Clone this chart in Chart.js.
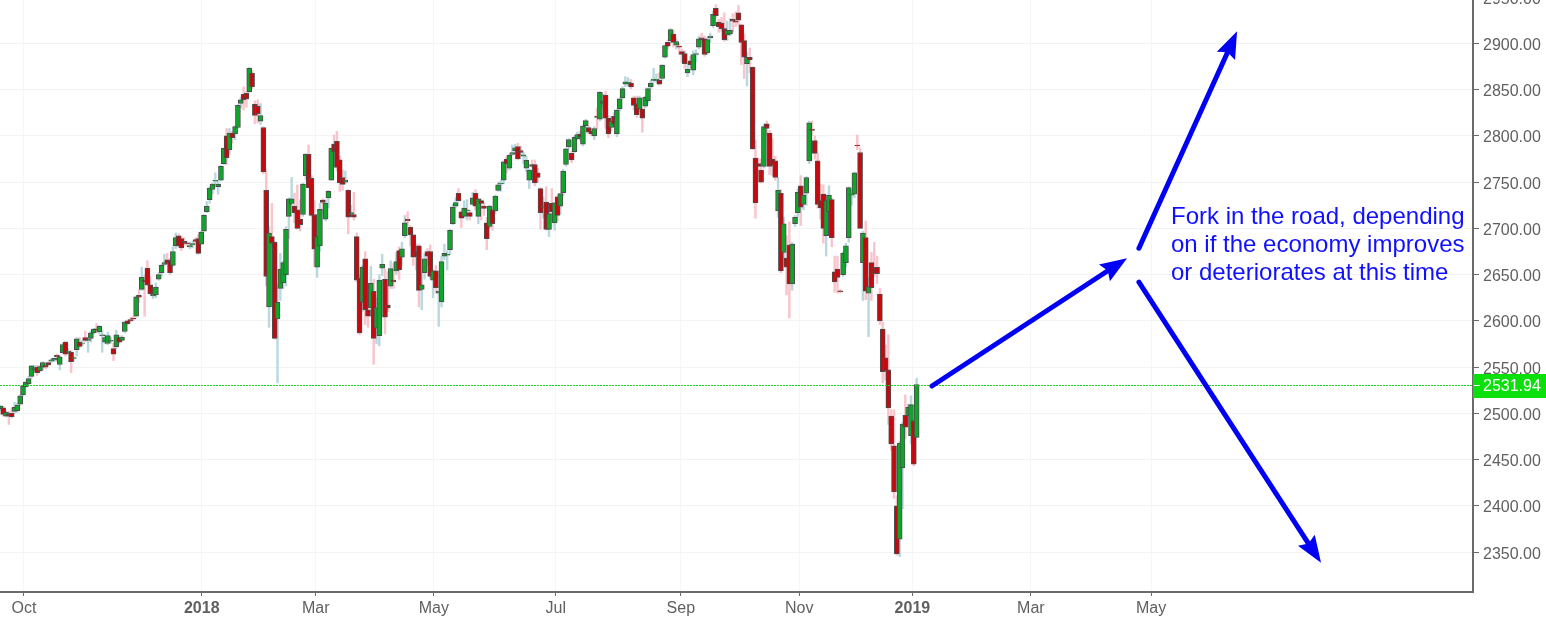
<!DOCTYPE html>
<html>
<head>
<meta charset="utf-8">
<title>S&amp;P 500 fork in the road</title>
<script src="https://cdn.jsdelivr.net/npm/chart.js@4"></script>
<style>
  html, body { margin: 0; padding: 0; background: #fff; overflow: hidden; }
  body { width: 1546px; height: 619px; position: relative; }
  #chart { position: absolute; left: 0; top: -20px; }
  #note {
    position: absolute; left: 1171px; top: 202px; width: 340px;
    font: 24px/28px "Liberation Sans", Arial, sans-serif; color: #1010ff;
  }
</style>
</head>
<body>
<canvas id="chart" width="1546" height="639"></canvas>
<div id="note">Fork in the road, depending<br>on if the economy improves<br>or deteriorates at this time</div>
<script>
// one entry per trading day
const opens = [
  2505,2506,2497,2499,2500,2502,2503,2510,2520,2529,
  2532,2540,2547,2550,2546,2550,2552,2555,2556.5,2557.5,
  2563,2553,2565.5,2577,2566,2566,2559.5,2569,2577,2575,
  2582,2579,2581,2587,2591.5,2588,2584,2577,2575.5,2578,
  2570,2572,2582,2579,2588.5,2600,2601.5,2603,2605,2627.5,
  2634,2644,2657,2639,2627,2628,2645,2652,2661,2666,
  2664.5,2660,2681,2692,2689,2686,2684.5,2680,2682,2688,
  2689,2683,2697,2718,2731,2742,2751,2745,2752,2770,
  2800,2785,2803,2802,2809,2835,2845,2846,2847.5,2868,
  2834,2832,2816,2809,2741,2615,2691,2685,2602,2635,
  2641,2650,2713,2727,2724,2720,2710,2715,2757,2780,
  2754,2715,2658,2681,2730.5,2710,2733,2752,2791,2794,
  2774,2755,2750,2741,2715,2715,2691,2646,2620,2667,
  2612,2614,2632,2592,2584,2657,2645,2617,2637.5,2644,
  2654,2676,2669,2692,2710,2701,2693,2675,2681,2634,
  2652,2675,2675,2644,2654,2630,2620.5,2670,2671,2677,
  2705,2724,2738,2718,2713,2719,2717,2726,2738,2713,
  2730,2724,2706,2702,2720,2719,2741,2748,2752,2775,
  2765,2780,2784,2788.5,2784,2778,2765,2752,2769,2769,
  2760,2743,2723,2728.5,2699,2727,2706,2734,2724,2738.5,
  2769,2788,2781,2783,2797,2802,2791,2811,2809,2805,
  2800,2821,2818,2835,2844,2819,2809,2821,2802,2829,
  2841,2856,2857,2857,2841,2835,2829,2829,2832,2838,
  2853,2860,2860,2860,2862,2885,2901,2903,2910,2898,
  2897,2891,2889,2868,2881,2871,2888,2896,2906,2905,
  2890,2906,2919,2938,2923,2922,2916,2909,2910,2926,
  2924,2933,2920,2903,2878,2885,2874,2776,2770,2763,
  2767,2813,2803,2775,2773,2719,2738,2674,2668,2682,
  2640,2705,2717,2746,2726,2738,2773,2807,2795,2773,
  2730,2737,2692,2718,2731,2653,2656,2632.5,2650,2663,
  2690,2736,2737,2790,2782,2663,2690,2630,2663,2658,
  2658,2629,2591,2560,2547,2497,2465,2400,2364,2441,
  2498,2497.5,2476,2492,2474
];
const closes = [
  2508,2499,2501,2497,2496.5,2506.5,2509,2519,2529.5,2533.5,
  2537.5,2551.5,2549.3,2544,2550.6,2555,2550,2552.5,2558,2559.5,
  2561,2561,2574.5,2564,2567,2556,2560.4,2580.6,2572.5,2575.5,
  2579,2580,2587,2591,2590,2594,2585,2582,2584,2579,
  2564,2585,2577,2582.5,2598.6,2597,2600,2602,2626,2625.5,
  2647,2642,2639,2629.5,2629,2636.5,2650,2660,2663,2662,
  2652,2675,2690,2681,2679,2684,2683.3,2681.5,2683.5,2686,
  2673,2696,2714,2724,2743.5,2748,2751.8,2748,2767,2786.5,
  2776.5,2803,2798,2810,2833,2839,2839,2840,2873,2853,
  2822,2824,2822,2761,2648,2695,2684,2581,2620,2656,
  2663,2699,2732,2732,2717,2700,2704,2748,2780,2744,
  2714,2677.5,2691,2720.5,2728,2727,2740,2786.5,2783,2766,
  2749,2747.5,2752,2712,2717,2712,2644,2587,2658,2612,
  2605,2640.5,2581,2614.5,2644,2661,2604,2614,2656.5,2642,
  2664,2655,2678,2706,2708,2693,2669,2670,2633,2639,
  2667,2670,2648,2654,2636,2632,2664,2673,2672,2698,
  2723,2728,2730,2711,2722,2720,2713,2733,2724,2732,
  2727,2721.5,2689,2724,2705,2735,2747,2749,2772,2770,
  2779,2782,2787,2775,2782,2779.5,2773.5,2763,2767,2749,
  2755,2717,2723.8,2699,2716,2718,2727.5,2714,2737.5,2762,
  2786,2796,2774,2798.5,2801.5,2799,2810.5,2816.5,2804,2802,
  2808,2820,2847,2838,2819,2802,2816,2813,2828,2840,
  2851,2858.5,2858,2853,2833,2823,2841,2819,2842,2851,
  2857,2861.5,2861,2856,2876.5,2897.5,2897,2915,2901,2902,
  2896,2888,2878,2872,2877,2888,2889,2905,2904,2888,
  2904,2908,2931.5,2930,2918,2916,2904,2914,2914,2924,
  2923,2925,2901,2885,2885,2882,2786,2727.5,2767,2750,
  2810,2808,2767,2768,2755,2741,2654,2705,2658,2640,
  2683,2712,2739,2723,2736,2755,2814,2806,2781,2726,
  2722,2700,2730,2736,2690,2642,2647,2631.5,2673,2681,
  2744,2737,2760,2789,2700,2695,2632,2637,2636,2651,
  2651,2600,2545,2546,2506,2467,2415,2348,2468,2488.5,
  2485,2506.6,2509.5,2445,2531
];
const highs = [
  2509,2508,2503,2502,2506,2512,2511,2520,2530,2535,
  2540,2552,2552,2552,2552,2556,2555,2556,2559,2560,
  2564,2562,2575.5,2578,2570,2568,2561,2582,2582,2579,
  2589,2582,2589,2592,2597,2595,2590,2585,2588,2582,
  2576,2590,2584,2584,2600,2601,2604,2605,2627,2634,
  2658,2650,2665,2648,2635,2641,2652,2661,2672,2673,
  2668,2680,2695,2694,2692,2690,2686,2685,2686,2690,
  2693,2697,2715,2729,2745,2749,2760,2751,2768,2787,
  2808,2808,2805,2811,2834,2842,2853,2848,2874,2871,
  2838,2839,2835,2810,2763,2702,2727,2686,2639,2673,
  2665,2702,2733,2755,2738,2747,2731,2749,2781,2790,
  2757,2730,2692,2727,2732,2731,2741,2787,2801,2805,
  2778,2763,2762,2742,2725,2739,2695,2650,2660,2675,
  2632,2659,2645,2625,2650,2672,2656,2653,2665,2662,
  2674,2680,2685,2714,2718,2703,2693,2683,2683,2652,
  2673,2678,2682,2655,2660,2654,2670,2683,2676,2699,
  2726,2733,2743,2719,2730,2731,2719,2739,2742,2733,
  2732,2728,2712,2725,2722,2736,2750,2752,2773,2778,
  2780,2790,2791,2792,2789,2782,2778,2764,2774,2774,
  2765,2744,2734,2745,2725,2743,2728,2736,2738,2764,
  2787,2797,2783,2800,2804,2805,2812,2818,2811,2808,
  2810,2830,2848,2845,2848,2822,2821,2825,2829,2841,
  2853,2864,2863,2861,2843,2843,2843,2831,2843,2852,
  2860,2873,2867,2868,2877,2898,2903,2916,2914,2905,
  2900,2894,2892,2878,2886,2892,2893,2908,2911,2908,
  2906,2911,2935,2942,2926,2928,2933,2924,2927,2932,
  2934,2941,2921,2910,2890,2895,2875,2795,2776,2775,
  2813,2816,2806,2797,2778,2755,2742,2712,2692,2707,
  2685,2714,2743,2757,2745,2756,2816,2816,2800,2781,
  2748,2747,2736,2746,2733,2670,2670,2634,2675,2684,
  2745,2741,2761,2801,2787,2697,2708,2647,2674,2685,
  2670,2635,2599,2574,2585,2504,2504,2411,2470,2490,
  2520,2510,2519,2493,2538
];
const lows = [
  2503,2497,2496,2488,2495,2500,2501,2509,2519,2528,
  2531,2538,2545,2541,2545,2547,2548,2552,2555,2556,
  2556,2547,2565,2562,2565,2544,2557,2562,2571,2573,
  2577,2566,2577,2586,2587,2586,2566,2575,2574,2576,
  2557,2570,2575,2578,2587,2596,2599,2600,2604,2620,
  2633,2605,2638,2628,2624,2625,2644,2649,2660,2661,
  2650,2659,2678,2680,2676,2682,2681,2678,2679,2684,
  2672,2683,2697,2717,2727,2737,2748,2737,2751,2769,
  2769,2780,2792,2796,2808,2830,2828,2831,2847,2851,
  2813,2814,2812,2759,2638,2593,2680,2580,2533,2622,
  2635,2638,2689,2725,2706,2699,2697,2713,2753,2744,
  2713,2659,2647,2675,2715,2708,2722,2752,2782,2762,
  2740,2741,2748,2694,2713,2709,2642,2585,2610,2596,
  2593,2605,2553,2575,2573,2649,2586,2610,2635,2635,
  2650,2645,2660,2690,2703,2681,2660,2655,2615,2612,
  2645,2660,2645,2625,2630,2594,2615,2666,2655,2672,
  2704,2723,2729,2701,2711,2709,2709,2725,2720,2705,
  2709,2714,2677,2700,2698,2716,2740,2740,2748,2760,
  2763,2779,2781,2774,2779,2770,2761,2743,2765,2746,
  2750,2699,2711,2698,2691,2708,2698,2708,2715,2735,
  2767,2786,2771,2782,2796,2795,2789,2809,2802,2800,
  2796,2807,2816,2830,2808,2798,2805,2811,2799,2827,
  2840,2853,2854,2851,2828,2820,2826,2804,2830,2836,
  2851,2858,2858,2855,2860,2884,2894,2901,2896,2894,
  2888,2879,2873,2864,2873,2866,2880,2894,2900,2886,
  2888,2901,2917,2928,2912,2913,2902,2903,2908,2912,
  2918,2920,2877,2862,2854,2868,2785,2711,2750,2749,
  2765,2800,2758,2757,2752,2712,2652,2660,2628,2603,
  2633,2702,2712,2703,2720,2725,2770,2800,2775,2722,
  2710,2684,2670,2708,2680,2631,2630,2630,2648,2658,
  2685,2725,2733,2785,2700,2622,2623,2583,2622,2648,
  2640,2596,2533,2536,2488,2460,2408,2346.6,2345,2397,
  2473,2488,2467,2443,2474
];

const lastPriceLabel = "2531.94";
const lastPriceLevel = 2530.7;

// x positions of the month ticks, in trading day units
const tickPositions = [8.35, 71.2, 111.5, 153.3, 196.4, 240.6, 282.5, 322.5, 364.4, 406.9];
const tickLabels = ["Oct", "2018", "Mar", "May", "Jul", "Sep", "Nov", "2019", "Mar", "May"];

// arrows as [day, price] pairs
const arrows = [
  { from: [329.4, 2529.6], to: [398.4, 2667.8] },
  { from: [402.6, 2678.6], to: [437.3, 2913] },
  { from: [402.6, 2641.9], to: [467, 2338.4] }
];

const isUp = (i) => closes[i] >= opens[i];

function drawArrow(ctx, x1, y1, x2, y2) {
  const a = Math.atan2(y2 - y1, x2 - x1);
  const len = 27, notch = 23, half = 10;
  const bx = x2 - notch * Math.cos(a), by = y2 - notch * Math.sin(a);
  ctx.beginPath();
  ctx.moveTo(x1, y1);
  ctx.lineTo(bx, by);
  ctx.lineWidth = 5;
  ctx.lineCap = "round";
  ctx.strokeStyle = "#0000f5";
  ctx.stroke();
  const cx = x2 - len * Math.cos(a), cy = y2 - len * Math.sin(a);
  ctx.beginPath();
  ctx.moveTo(x2, y2);
  ctx.lineTo(cx - half * Math.sin(a), cy + half * Math.cos(a));
  ctx.lineTo(bx, by);
  ctx.lineTo(cx + half * Math.sin(a), cy - half * Math.cos(a));
  ctx.closePath();
  ctx.fillStyle = "#0000f5";
  ctx.fill();
}

// price line, price tag and arrows
const extras = {
  id: "extras",
  afterDraw(chart) {
    const ctx = chart.ctx, x = chart.scales.x, y = chart.scales.y;
    const area = chart.chartArea;
    const py = Math.round(y.getPixelForValue(lastPriceLevel)) + 0.5;
    ctx.save();
    ctx.beginPath();
    ctx.setLineDash([2, 1]);
    ctx.moveTo(area.left, py);
    ctx.lineTo(area.right, py);
    ctx.lineWidth = 1;
    ctx.strokeStyle = "#22cc22";
    ctx.stroke();
    ctx.setLineDash([]);

    ctx.fillStyle = "#0ce00c";
    ctx.fillRect(area.right, py - 11.5, 73, 24);
    ctx.strokeStyle = "#ffffff";
    ctx.beginPath();
    ctx.moveTo(area.right + 1, py);
    ctx.lineTo(area.right + 7, py);
    ctx.stroke();
    ctx.fillStyle = "#ffffff";
    ctx.font = '16px "Liberation Sans", Arial, sans-serif';
    ctx.textBaseline = "middle";
    ctx.fillText(lastPriceLabel, area.right + 10, py + 1);

    arrows.forEach((arrow) => {
      drawArrow(ctx,
        x.getPixelForValue(arrow.from[0]), y.getPixelForValue(arrow.from[1]),
        x.getPixelForValue(arrow.to[0]), y.getPixelForValue(arrow.to[1]));
    });
    ctx.restore();
  }
};

const ctx = document.getElementById("chart").getContext("2d");
new Chart(ctx, {
  type: "bar",
  data: {
    datasets: [
      {
        label: "Body",
        data: opens.map((o, i) => ({ x: i, y: [o, closes[i]] })),
        backgroundColor: opens.map((o, i) => (isUp(i) ? "#0ea52a" : "#c40a0e")),
        borderColor: "#4d4d4d",
        borderWidth: 1,
        borderSkipped: false,
        barThickness: 5,
        grouped: false,
        order: 1
      },
      {
        label: "Wick",
        data: highs.map((h, i) => ({ x: i, y: [lows[i], h] })),
        backgroundColor: opens.map((o, i) => (isUp(i) ? "#bad9df" : "#f9c4cc")),
        borderWidth: 0,
        barThickness: 1.8,
        grouped: false,
        order: 2
      }
    ]
  },
  options: {
    responsive: false,
    animation: false,
    events: [],
    plugins: { legend: { display: false }, tooltip: { enabled: false } },
    layout: { padding: 0 },
    scales: {
      x: {
        type: "linear",
        offset: false,
        min: -0.133,
        max: 520.73,
        afterBuildTicks(scale) {
          scale.ticks = tickPositions.map((v) => ({ value: v }));
        },
        afterFit(scale) {
          scale.height = 27;
          scale.paddingLeft = 0;
          scale.paddingRight = 0;
        },
        grid: { color: "#f5f5f5", tickColor: "#6a6a6a", tickLength: 4, offset: false },
        border: { color: "#6a6a6a", width: 2 },
        ticks: {
          autoSkip: false,
          maxRotation: 0,
          padding: 3,
          color: "#606060",
          font: (c) => ({
            family: '"Liberation Sans", Arial, sans-serif',
            size: 16,
            weight: /^\d+$/.test(tickLabels[c.index]) ? "bold" : "normal"
          }),
          callback: (value, index) => tickLabels[index]
        }
      },
      y: {
        position: "right",
        min: 2306.9,
        max: 2968.5,
        afterFit(scale) {
          scale.width = 73;
          scale.paddingTop = 0;
          scale.paddingBottom = 0;
        },
        grid: { color: "#f3f3f3", tickColor: "#6a6a6a", tickLength: 6 },
        border: { color: "#6a6a6a", width: 2 },
        ticks: {
          stepSize: 50,
          includeBounds: false,
          padding: 4,
          labelOffset: 2,
          color: "#606060",
          font: { family: '"Liberation Sans", Arial, sans-serif', size: 16 },
          callback: (value) => value.toFixed(2)
        }
      }
    }
  },
  plugins: [extras]
});
</script>
</body>
</html>
